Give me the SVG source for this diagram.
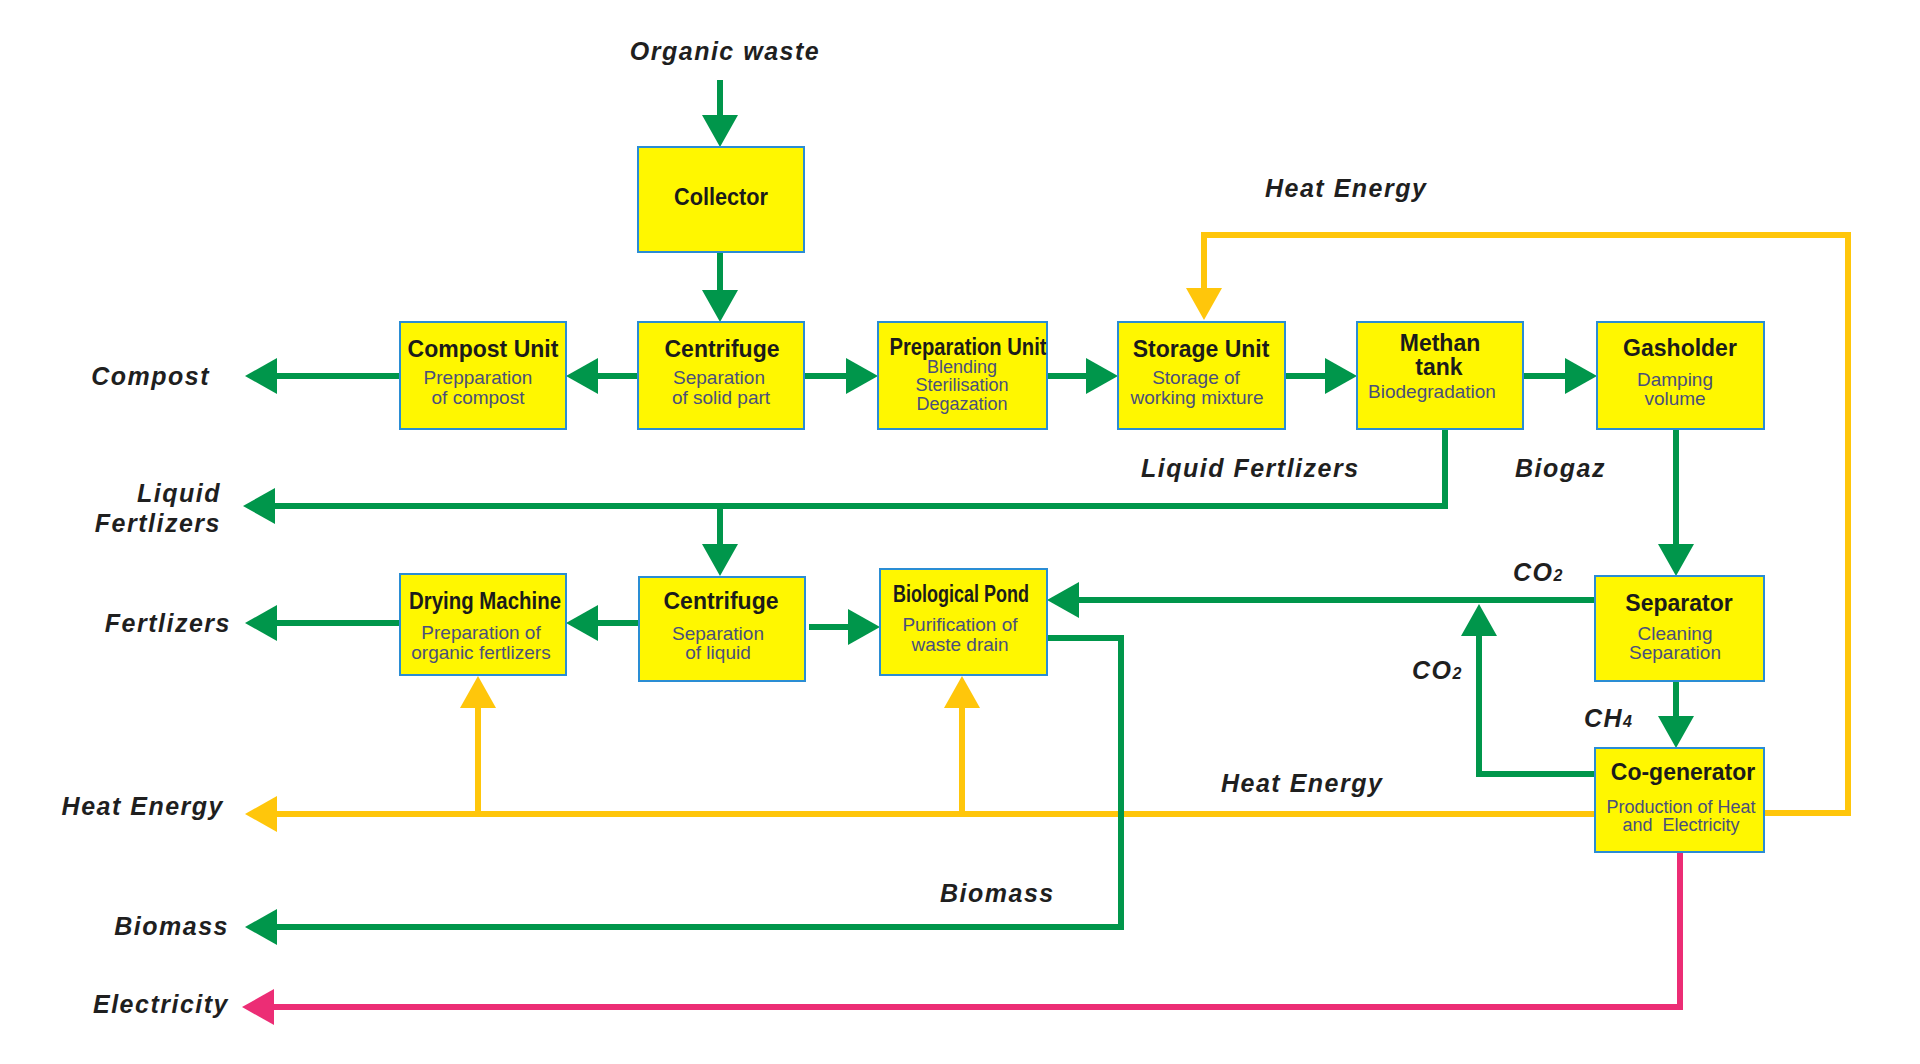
<svg xmlns="http://www.w3.org/2000/svg" width="1920" height="1064" viewBox="0 0 1920 1064">
<defs>
<style>
.box{fill:#FFF700;stroke:#2A8DD4;stroke-width:2}
.t{font-family:"Liberation Sans",Arial,sans-serif;font-weight:bold;font-size:23px;fill:#1b1b1b;text-anchor:middle}
.s{font-family:"Liberation Sans",Arial,sans-serif;font-size:19px;fill:#4a4f7c;text-anchor:middle}
.s18{font-size:18px}
.lbl{font-family:"Liberation Sans",Arial,sans-serif;font-weight:bold;font-style:italic;font-size:25px;fill:#1f1f1f;letter-spacing:1.5px}
.end{text-anchor:end}
.sub{font-size:16px}
.g{fill:none;stroke:#00964B;stroke-width:6}
.y{fill:none;stroke:#FFC60B;stroke-width:6}
.p{fill:none;stroke:#EC2D75;stroke-width:6}
</style>
<marker id="ag" markerUnits="userSpaceOnUse" markerWidth="32" markerHeight="36" viewBox="0 0 32 36" refX="1" refY="18" orient="auto"><path d="M0,0 L32,18 L0,36 z" fill="#00964B"/></marker>
<marker id="ay" markerUnits="userSpaceOnUse" markerWidth="32" markerHeight="36" viewBox="0 0 32 36" refX="1" refY="18" orient="auto"><path d="M0,0 L32,18 L0,36 z" fill="#FFC60B"/></marker>
<marker id="ap" markerUnits="userSpaceOnUse" markerWidth="32" markerHeight="36" viewBox="0 0 32 36" refX="1" refY="18" orient="auto"><path d="M0,0 L32,18 L0,36 z" fill="#EC2D75"/></marker>
</defs>
<rect width="1920" height="1064" fill="#ffffff"/>

<g id="connectors">
<path class="g" marker-end="url(#ag)" d="M720,80 V116"/>
<path class="g" marker-end="url(#ag)" d="M720,252 V291"/>
<path class="g" marker-end="url(#ag)" d="M638,376 H597"/>
<path class="g" marker-end="url(#ag)" d="M400,376 H276"/>
<path class="g" marker-end="url(#ag)" d="M804,376 H847"/>
<path class="g" marker-end="url(#ag)" d="M1047,376 H1087"/>
<path class="g" marker-end="url(#ag)" d="M1285,376 H1326"/>
<path class="g" marker-end="url(#ag)" d="M1523,376 H1566"/>
<path class="g" marker-end="url(#ag)" d="M1445,429 V506 H274"/>
<path class="g" marker-end="url(#ag)" d="M720,506 V545"/>
<path class="g" marker-end="url(#ag)" d="M1676,429 V545"/>
<path class="g" marker-end="url(#ag)" d="M1595,600 H1078"/>
<path class="g" marker-end="url(#ag)" d="M1595,774 H1479 V635"/>
<path class="g" marker-end="url(#ag)" d="M1676,681 V717"/>
<path class="y" marker-end="url(#ay)" d="M1764,813 H1848 V235 H1204 V289"/>
<path class="y" marker-end="url(#ay)" d="M1595,814 H276"/>
<path class="y" marker-end="url(#ay)" d="M478,814 V707"/>
<path class="y" marker-end="url(#ay)" d="M962,814 V707"/>
<path class="g" marker-end="url(#ag)" d="M1047,638 H1121 V927 H276"/>
<path class="p" marker-end="url(#ap)" d="M1680,852 V1007 H273"/>
<path class="g" marker-end="url(#ag)" d="M639,623 H597"/>
<path class="g" marker-end="url(#ag)" d="M400,623 H276"/>
<path class="g" marker-end="url(#ag)" d="M809,627 H849"/>
</g>

<g id="collector">
<rect class="box" x="638" y="147" width="166" height="105"/>
<text class="t" x="721" y="205" textLength="94" lengthAdjust="spacingAndGlyphs">Collector</text>
</g>
<g id="compost-unit">
<rect class="box" x="400" y="322" width="166" height="107"/>
<text class="t" x="483" y="357">Compost Unit</text>
<text class="s" x="478" y="384">Prepparation</text>
<text class="s" x="478" y="404">of compost</text>
</g>
<g id="centrifuge-1">
<rect class="box" x="638" y="322" width="166" height="107"/>
<text class="t" x="722" y="357">Centrifuge</text>
<text class="s" x="719" y="384">Separation</text>
<text class="s" x="721" y="404">of solid part</text>
</g>
<g id="preparation-unit">
<rect class="box" x="878" y="322" width="169" height="107"/>
<text class="t" x="968" y="355" textLength="157" lengthAdjust="spacingAndGlyphs">Preparation Unit</text>
<text class="s s18" x="962" y="373">Blending</text>
<text class="s s18" x="962" y="391">Sterilisation</text>
<text class="s s18" x="962" y="410">Degazation</text>
</g>
<g id="storage-unit">
<rect class="box" x="1118" y="322" width="167" height="107"/>
<text class="t" x="1201" y="357">Storage Unit</text>
<text class="s" x="1196" y="384">Storage of</text>
<text class="s" x="1197" y="404">working mixture</text>
</g>
<g id="methan-tank">
<rect class="box" x="1357" y="322" width="166" height="107"/>
<text class="t" x="1440" y="351">Methan</text>
<text class="t" x="1439" y="375">tank</text>
<text class="s" x="1432" y="398">Biodegradation</text>
</g>
<g id="gasholder">
<rect class="box" x="1597" y="322" width="167" height="107"/>
<text class="t" x="1680" y="356">Gasholder</text>
<text class="s" x="1675" y="386">Damping</text>
<text class="s" x="1675" y="405">volume</text>
</g>
<g id="drying-machine">
<rect class="box" x="400" y="574" width="166" height="101"/>
<text class="t" x="485" y="609" textLength="152" lengthAdjust="spacingAndGlyphs">Drying Machine</text>
<text class="s" x="481" y="639">Preparation of</text>
<text class="s" x="481" y="659">organic fertlizers</text>
</g>
<g id="centrifuge-2">
<rect class="box" x="639" y="577" width="166" height="104"/>
<text class="t" x="721" y="609">Centrifuge</text>
<text class="s" x="718" y="640">Separation</text>
<text class="s" x="718" y="659">of liquid</text>
</g>
<g id="biological-pond">
<rect class="box" x="880" y="569" width="167" height="106"/>
<text class="t" x="961" y="602" textLength="136" lengthAdjust="spacingAndGlyphs">Biological Pond</text>
<text class="s" x="960" y="631">Purification of</text>
<text class="s" x="960" y="651">waste drain</text>
</g>
<g id="separator">
<rect class="box" x="1595" y="576" width="169" height="105"/>
<text class="t" x="1679" y="611">Separator</text>
<text class="s" x="1675" y="640">Cleaning</text>
<text class="s" x="1675" y="659">Separation</text>
</g>
<g id="co-generator">
<rect class="box" x="1595" y="748" width="169" height="104"/>
<text class="t" x="1683" y="780">Co-generator</text>
<text class="s s18" x="1681" y="813">Production of Heat</text>
<text class="s s18" x="1681" y="831" xml:space="preserve">and  Electricity</text>
</g>

<g id="labels">
<text class="lbl" x="725" y="60" text-anchor="middle">Organic waste</text>
<text class="lbl" x="1265" y="197">Heat Energy</text>
<text class="lbl" x="1141" y="477">Liquid Fertlizers</text>
<text class="lbl" x="1515" y="477">Biogaz</text>
<text class="lbl" x="1513" y="581">CO<tspan class="sub">2</tspan></text>
<text class="lbl" x="1412" y="679">CO<tspan class="sub">2</tspan></text>
<text class="lbl" x="1584" y="727">CH<tspan class="sub">4</tspan></text>
<text class="lbl" x="1221" y="792">Heat Energy</text>
<text class="lbl" x="940" y="902">Biomass</text>
<text class="lbl end" x="210" y="385">Compost</text>
<text class="lbl end" x="221" y="502">Liquid</text>
<text class="lbl end" x="221" y="532">Fertlizers</text>
<text class="lbl end" x="231" y="632">Fertlizers</text>
<text class="lbl end" x="224" y="815">Heat Energy</text>
<text class="lbl end" x="229" y="935">Biomass</text>
<text class="lbl end" x="229" y="1013">Electricity</text>
</g>
</svg>
